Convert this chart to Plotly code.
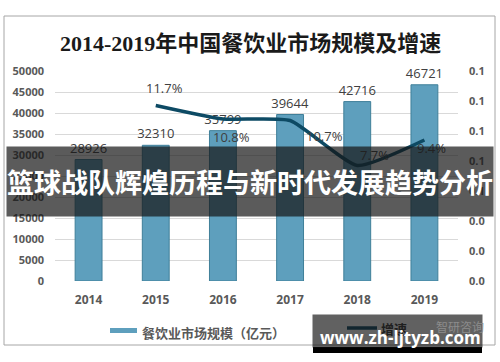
import plotly.graph_objects as go

# ---- data ----
years = ["2014", "2015", "2016", "2017", "2018", "2019"]
market_size = [28926, 32310, 35799, 39644, 42716, 46721]
growth_years = ["2015", "2016", "2017", "2018", "2019"]
growth = [0.117, 0.108, 0.107, 0.077, 0.094]
growth_labels = ["11.7%", "10.8%", "10.7%", "7.7%", "9.4%"]
left_tickvals = [0, 5000, 10000, 15000, 20000, 25000, 30000, 35000, 40000, 45000, 50000]
right_tickvals = [0, 0.02, 0.04, 0.06, 0.08, 0.10, 0.12, 0.14]
title_text = "2014-2019年中国餐饮业市场规模及增速"
bar_name = "餐饮业市场规模（亿元）"
line_name = "增速"
banner_text = "篮球战队辉煌历程与新时代发展趋势分析"
watermark_text = "www.zh-ljtyzb.com"
source_text = "智研咨询"

# ---- layout geometry ----
W, H = 500, 362
L, R, T, B = 55, 42, 71, 81
PW, PH = W - L - R, H - T - B


def px(x):
    return (x - L) / PW


def py(y):
    return (H - B - y) / PH


BAR_COLOR = "#5e9fbd"
LINE_COLOR = "#0d4a64"
TICK_COLOR = "#595959"
LABEL_COLOR = "#404040"

fig = go.Figure()
fig.add_trace(go.Bar(
    x=years, y=market_size, name=bar_name,
    marker=dict(color=BAR_COLOR, line=dict(color="#3f7f99", width=1)),
    text=[str(v) for v in market_size], textposition="outside",
    constraintext="none",
    textfont=dict(family="Open Sans", size=13, color=LABEL_COLOR),
    cliponaxis=False, showlegend=False,
))
fig.add_trace(go.Scatter(
    x=growth_years, y=growth, name=line_name, yaxis="y2", mode="lines",
    line=dict(color=LINE_COLOR, width=3.5, shape="spline", smoothing=0.5),
    showlegend=False,
))

annotations = []
annotations.append(dict(
    text="<b>" + title_text + "</b>", xref="paper", yref="paper",
    x=px(250), y=py(43), xanchor="center", yanchor="middle", showarrow=False,
    font=dict(family="Liberation Serif, Noto Sans CJK SC", size=22, color="#1a1a1a"),
))

shifts = [(9, 18), (9, -18), (34, -15), (17, 11), (7, -8)]
for yr, g, lab, (dx, dy) in zip(growth_years, growth, growth_labels, shifts):
    annotations.append(dict(
        text=lab, x=years.index(yr), y=g, xref="x", yref="y2", showarrow=False,
        xshift=dx, yshift=dy,
        font=dict(family="Open Sans", size=13, color=LABEL_COLOR),
    ))

# legend texts
annotations.append(dict(
    text="<b>" + bar_name + "</b>", xref="paper", yref="paper",
    x=px(140), y=py(332), xanchor="left", yanchor="middle", showarrow=False,
    font=dict(family="Noto Sans CJK SC", size=13, color=TICK_COLOR),
))
annotations.append(dict(
    text="<b>" + line_name + "</b>", xref="paper", yref="paper",
    x=px(379), y=py(328), xanchor="left", yanchor="middle", showarrow=False,
    font=dict(family="Noto Sans CJK SC", size=13, color="#333333"),
))

# banner overlay
annotations.append(dict(
    text="<b>" + banner_text + "</b>", xref="paper", yref="paper",
    x=px(250), y=py(181.5), xanchor="center", yanchor="middle", showarrow=False,
    width=486, height=69, bgcolor="rgba(22,22,22,0.7)", borderpad=0,
    font=dict(family="Noto Sans CJK SC", size=27, color="white"),
))
# watermark box
annotations.append(dict(
    text=" ", xref="paper", yref="paper",
    x=px(397.5), y=py(331), xanchor="center", yanchor="middle", showarrow=False,
    width=169, height=32, bgcolor="rgba(22,22,22,0.68)", borderpad=0,
    font=dict(size=10, color="white"),
))
annotations.append(dict(
    text=source_text, xref="paper", yref="paper",
    x=px(434), y=py(326), xanchor="left", yanchor="middle", showarrow=False,
    font=dict(family="Noto Sans CJK SC", size=12, color="#8c8c8c"),
))
annotations.append(dict(
    text="<b>" + watermark_text + "</b>", xref="paper", yref="paper",
    x=px(400), y=py(337), xanchor="center", yanchor="middle", showarrow=False,
    font=dict(family="Open Sans", size=17, color="white"),
))

shapes = [
    dict(type="rect", xref="paper", yref="paper", x0=px(4), x1=px(495),
         y0=py(16), y1=py(345), line=dict(color="#a6a6a6", width=1),
         fillcolor="rgba(0,0,0,0)", layer="below"),
    dict(type="rect", xref="paper", yref="paper", x0=px(110), x1=px(137),
         y0=py(333), y1=py(328), line=dict(width=0), fillcolor=BAR_COLOR),
    dict(type="line", xref="paper", yref="paper", x0=px(347), x1=px(377),
         y0=py(328), y1=py(328), line=dict(color=LINE_COLOR, width=3.5)),
    dict(type="rect", xref="paper", yref="paper", x0=px(313), x1=px(482),
         y0=py(353), y1=py(347), line=dict(width=0), fillcolor="black"),
]

fig.update_layout(
    width=W, height=H,
    margin=dict(l=L, r=R, t=T, b=B),
    paper_bgcolor="white", plot_bgcolor="white",
    bargap=0.6,
    showlegend=False,
    xaxis=dict(
        type="category", categoryorder="array", categoryarray=years,
        range=[-0.5, len(years) - 0.5], autorange=False,
        showgrid=False, zeroline=False, showline=False,
        ticks="", ticklabelstandoff=10,
        tickfont=dict(family="Open Sans", size=12, color=TICK_COLOR, weight="bold"),
    ),
    yaxis=dict(
        range=[0, 50000], autorange=False, tickvals=left_tickvals, tickformat="d",
        showgrid=True, gridcolor="#d9d9d9", gridwidth=1, zeroline=False, showline=False,
        ticks="", ticklabelstandoff=10,
        tickfont=dict(family="Open Sans", size=11, color=TICK_COLOR, weight="bold"),
    ),
    yaxis2=dict(
        overlaying="y", side="right", range=[0, 0.14], autorange=False,
        tickvals=right_tickvals, tickformat=".1f",
        showgrid=False, zeroline=False, showline=False,
        ticks="", ticklabelstandoff=10,
        tickfont=dict(family="Open Sans", size=11, color=TICK_COLOR, weight="bold"),
    ),
    annotations=annotations,
    shapes=shapes,
)

fig.write_html(
    "out.html",
    config={"displayModeBar": False},
    post_script="document.body.style.margin='0';document.body.style.overflow='hidden';",
)
